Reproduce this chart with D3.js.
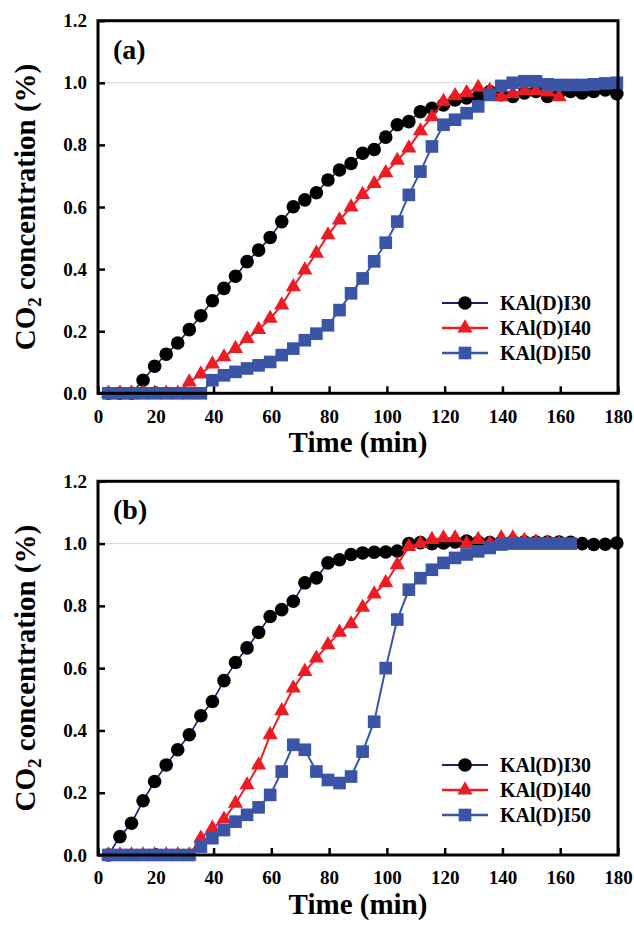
<!DOCTYPE html>
<html>
<head>
<meta charset="UTF-8">
<title>CO2 breakthrough curves</title>
<script src="https://cdn.jsdelivr.net/npm/d3@7/dist/d3.min.js"></script>
<style>
body { margin: 0; background: #fff; }
svg text { font-family: "Liberation Serif", "Times New Roman", serif; font-weight: bold; fill: #000; }
</style>
</head>
<body>
<div id="chart"></div>
<script>
// sampling times (min)
var time = [3.6, 7.6, 11.6, 15.6, 19.6, 23.6, 27.6, 31.6, 35.6, 39.6,
  43.6, 47.6, 51.6, 55.6, 59.6, 63.6, 67.6, 71.6, 75.6, 79.6,
  83.6, 87.6, 91.6, 95.6, 99.6, 103.6, 107.6, 111.6, 115.6, 119.6,
  123.6, 127.6, 131.6, 135.6, 139.6, 143.6, 147.6, 151.6, 155.6, 159.6,
  163.6, 167.6, 171.6, 175.6, 179.6];

var xTicks = [0, 20, 40, 60, 80, 100, 120, 140, 160, 180];
var yTicks = [0, 0.2, 0.4, 0.6, 0.8, 1.0, 1.2];
var seriesNames = ["KAl(D)I30", "KAl(D)I40", "KAl(D)I50"];
var panelLabels = ["(a)", "(b)"];

// panel (a)
var a30 = [0, 0, 0, 0.042, 0.087, 0.126, 0.162, 0.205, 0.25, 0.298,
  0.338, 0.377, 0.424, 0.461, 0.502, 0.553, 0.601, 0.623, 0.646, 0.687,
  0.719, 0.74, 0.773, 0.785, 0.825, 0.865, 0.875, 0.907, 0.918, 0.929,
  0.945, 0.951, 0.956, 0.972, 0.962, 0.956, 0.967, 0.972, 0.956, 0.968,
  0.972, 0.967, 0.972, 0.977, 0.965];
var a40 = [0, 0, 0, 0, 0, 0, 0, 0.036, 0.062, 0.094,
  0.117, 0.144, 0.176, 0.205, 0.241, 0.284, 0.343, 0.397, 0.451, 0.51,
  0.558, 0.6, 0.64, 0.675, 0.71, 0.75, 0.79, 0.845, 0.89, 0.94,
  0.958, 0.968, 0.985, 0.975, 0.955, 0.965, 0.975, 0.975, 0.97, 0.955,
  null, null, null, null, null];
var a50 = [0, 0, 0, 0, 0, 0, 0, 0, 0, 0.042,
  0.058, 0.069, 0.08, 0.09, 0.101, 0.123, 0.144, 0.171, 0.192, 0.219,
  0.268, 0.322, 0.37, 0.425, 0.485, 0.553, 0.639, 0.714, 0.795, 0.865,
  0.881, 0.902, 0.924, 0.961, 0.99, 1.0, 1.005, 1.005, 0.995, 0.993,
  0.993, 0.993, 0.995, 0.998, 1.0];

// panel (b)
var b30 = [0, 0.059, 0.102, 0.174, 0.236, 0.289, 0.338, 0.386, 0.447, 0.493,
  0.56, 0.618, 0.665, 0.715, 0.766, 0.788, 0.815, 0.874, 0.89, 0.938,
  0.948, 0.965, 0.97, 0.972, 0.973, 0.976, 1.0, 1.003, 1.0, 1.002,
  1.005, 1.008, 1.005, 1.003, 1.005, 1.007, 1.006, 1.005, 1.005, 1.005,
  1.004, 1.0, 0.997, 0.998, 1.002];
var b40 = [0, 0, 0, 0, 0, 0, 0, 0, 0.054, 0.086,
  0.115, 0.166, 0.225, 0.289, 0.386, 0.463, 0.536, 0.589, 0.632, 0.675,
  0.715, 0.742, 0.795, 0.838, 0.874, 0.932, 0.99, 1.0, 1.013, 1.018,
  1.018, 1.0, 1.013, 1.0, 1.018, 1.018, 1.01, 1.005, 1.003, 1.0,
  null, null, null, null, null];
var b50 = [0, 0, 0, 0, 0, 0, 0, 0, 0.027, 0.054,
  0.08, 0.107, 0.129, 0.153, 0.193, 0.268, 0.354, 0.338, 0.268, 0.241,
  0.231, 0.252, 0.332, 0.428, 0.6, 0.756, 0.852, 0.889, 0.916, 0.938,
  0.954, 0.965, 0.975, 0.986, 0.997, 1.0, 1.0, 1.0, 1.0, 1.0,
  1.0, null, null, null, null];

var styles = [
  { line: "#1c1c72", fill: "#000", shape: d3.symbolCircle, size: 145, width: 1.6 },
  { line: "#ec1c24", fill: "#ec1c24", shape: d3.symbolTriangle, size: 100, width: 2 },
  { line: "#3a55a6", fill: "#3a55a6", shape: d3.symbolSquare, size: 160, width: 2 }
];

var panels = [
  { label: panelLabels[0], series: [a30, a40, a50], top: 20.7, bottom: 393.3, legendY: 303 },
  { label: panelLabels[1], series: [b30, b40, b50], top: 481.3, bottom: 855, legendY: 765 }
];

var svg = d3.select("#chart").append("svg")
  .attr("width", 634)
  .attr("height", 926);

var x = d3.scaleLinear().domain([0, 180]).range([98, 618]);

panels.forEach(function(p) {
  var y = d3.scaleLinear().domain([0, 1.2]).range([p.bottom, p.top]);
  var g = svg.append("g");

  // light gridline at 1.0
  g.append("line")
    .attr("x1", x(0)).attr("x2", x(180))
    .attr("y1", y(1.0)).attr("y2", y(1.0))
    .attr("stroke", "#d6d6d6").attr("stroke-width", 1);

  var yAxis = d3.axisLeft(y).tickValues(yTicks)
    .tickSizeInner(-7).tickSizeOuter(0).tickPadding(11)
    .tickFormat(d3.format(".1f"));
  var xAxis = d3.axisBottom(x).tickValues(xTicks)
    .tickSizeInner(-7).tickSizeOuter(0).tickPadding(16)
    .tickFormat(d3.format("d"));

  var ya = g.append("g").attr("transform", "translate(" + x(0) + ",0)").call(yAxis);
  var xa = g.append("g").attr("transform", "translate(0," + p.bottom + ")").call(xAxis);
  [ya, xa].forEach(function(a) {
    a.select(".domain").remove();
    a.selectAll(".tick line").attr("stroke", "#000").attr("stroke-width", 2.5);
    a.selectAll(".tick text").style("font-size", "19px").attr("fill", "#000");
  });

  // series
  p.series.forEach(function(vals, si) {
    var st = styles[si];
    var idx = d3.range(vals.length).filter(function(i) { return vals[i] != null; });
    var line = d3.line()
      .x(function(i) { return x(time[i]); })
      .y(function(i) { return y(vals[i]); });
    g.append("path")
      .attr("d", line(idx))
      .attr("fill", "none")
      .attr("stroke", st.line)
      .attr("stroke-width", st.width);
    g.selectAll(null).data(idx).enter().append("path")
      .attr("d", d3.symbol().type(st.shape).size(st.size))
      .attr("transform", function(i) { return "translate(" + x(time[i]) + "," + y(vals[i]) + ")"; })
      .attr("fill", st.fill);
  });

  // frame
  g.append("rect")
    .attr("x", x(0)).attr("y", p.top)
    .attr("width", x(180) - x(0)).attr("height", p.bottom - p.top)
    .attr("fill", "none").attr("stroke", "#000").attr("stroke-width", 3);

  // panel label
  g.append("text")
    .attr("x", 113).attr("y", p.top + 38)
    .style("font-size", "28px")
    .text(p.label);

  // legend
  seriesNames.forEach(function(name, si) {
    var st = styles[si];
    var ly = p.legendY + si * 25;
    g.append("line")
      .attr("x1", 442).attr("x2", 488).attr("y1", ly).attr("y2", ly)
      .attr("stroke", st.line).attr("stroke-width", st.width + 0.4);
    g.append("path")
      .attr("d", d3.symbol().type(st.shape).size(st.size))
      .attr("transform", "translate(465," + ly + ")")
      .attr("fill", st.fill);
    g.append("text")
      .attr("x", 500).attr("y", ly).attr("dy", "0.35em")
      .style("font-size", "20px")
      .text(name);
  });

  // axis titles
  g.append("text")
    .attr("x", (x(0) + x(180)) / 2).attr("y", p.bottom + 59)
    .attr("text-anchor", "middle")
    .style("font-size", "29px")
    .text("Time (min)");

  var yt = g.append("text")
    .attr("transform", "translate(35," + (p.top + p.bottom) / 2 + ") rotate(-90)")
    .attr("text-anchor", "middle")
    .style("font-size", "29px");
  yt.append("tspan").text("CO");
  yt.append("tspan").attr("dy", 6).style("font-size", "19px").text("2");
  yt.append("tspan").attr("dy", -6).text(" concentration (%)");
});
</script>
</body>
</html>
